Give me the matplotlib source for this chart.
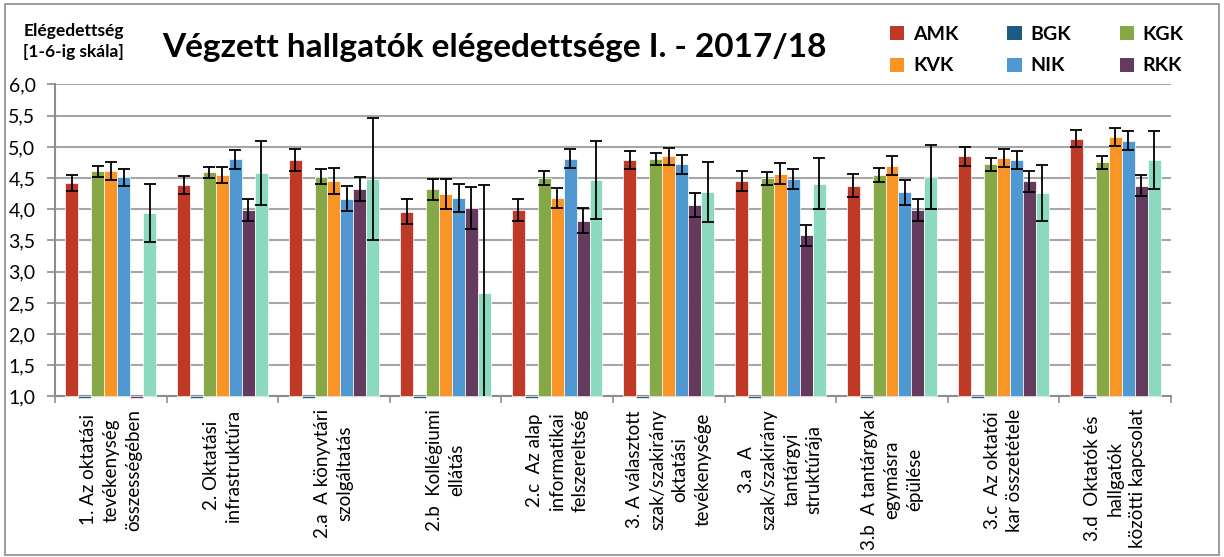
import matplotlib
matplotlib.use('Agg')
import matplotlib.pyplot as plt
from matplotlib.patches import Patch, Rectangle
from matplotlib.ticker import FuncFormatter, FixedLocator
import numpy as np

plt.rcParams['font.family'] = ['Lato', 'DejaVu Sans']

# kategóriák
kategoriak = [
    "1. Az oktatási\ntevékenység\nösszességében",
    "2. Oktatási\ninfrastruktúra",
    "2.a  A könyvtári\nszolgáltatás",
    "2.b  Kollégiumi\nellátás",
    "2.c  Az alap\ninformatikai\nfelszereltség",
    "3. A választott\nszak/szakirány\noktatási\ntevékenysége",
    "3.a  A\nszak/szakirány\ntantárgyi\nstruktúrája",
    "3.b  A tantárgyak\negymásra\népülése",
    "3.c  Az oktatói\nkar összetétele",
    "3.d  Oktatók és\nhallgatók\nközötti kapcsolat",
]

# átlagok karonként
amk = [4.42, 4.39, 4.79, 3.96, 3.99, 4.79, 4.46, 4.38, 4.85, 5.13]
bgk = [0.97, 0.97, 0.97, 0.97, 0.97, 0.97, 0.97, 0.97, 0.97, 0.97]
kgk = [4.61, 4.59, 4.52, 4.32, 4.50, 4.81, 4.50, 4.55, 4.72, 4.75]
kvk = [4.61, 4.55, 4.45, 4.24, 4.18, 4.85, 4.57, 4.70, 4.82, 5.16]
nik = [4.51, 4.80, 4.17, 4.18, 4.81, 4.72, 4.48, 4.27, 4.79, 5.10]
rkk = [0.97, 3.99, 4.32, 4.02, 3.82, 4.07, 3.58, 3.99, 4.45, 4.38]
osszes = [3.94, 4.58, 4.49, 2.66, 4.47, 4.27, 4.41, 4.52, 4.26, 4.79]

# hibák
amk_err = [0.13, 0.15, 0.17, 0.20, 0.18, 0.14, 0.16, 0.18, 0.15, 0.135]
kgk_err = [0.09, 0.09, 0.12, 0.17, 0.115, 0.10, 0.105, 0.11, 0.105, 0.105]
kvk_err = [0.145, 0.13, 0.21, 0.24, 0.16, 0.135, 0.165, 0.155, 0.15, 0.15]
nik_err = [0.14, 0.15, 0.20, 0.22, 0.15, 0.15, 0.16, 0.20, 0.15, 0.155]
rkk_err = [0.0, 0.18, 0.19, 0.34, 0.20, 0.19, 0.17, 0.18, 0.17, 0.17]
osszes_err = [0.46, 0.51, 0.98, 1.73, 0.63, 0.48, 0.41, 0.51, 0.45, 0.47]

sorozatok = [
    ('AMK', amk, amk_err, '#BE3A27'),
    ('BGK', bgk, None, '#1B5B84'),
    ('KGK', kgk, kgk_err, '#86A846'),
    ('KVK', kvk, kvk_err, '#F99526'),
    ('NIK', nik, nik_err, '#5098D2'),
    ('RKK', rkk, rkk_err, '#643A5E'),
    ('Összes', osszes, osszes_err, '#8BD9BE'),
]

fig = plt.figure(figsize=(12.24, 5.57), dpi=100)
ax = fig.add_axes([0.0449, 0.2882, 0.9118, 0.5601])

x = np.arange(len(kategoriak))
w = 0.116
for j, (nev, ertek, hiba, szin) in enumerate(sorozatok):
    pos = x + (j - 3) * w
    ertek = np.array(ertek)
    ax.bar(pos, ertek - 1, bottom=1, width=w, color=szin, edgecolor='white',
           linewidth=0.5, zorder=3, clip_on=False)
    if hiba is not None:
        e = np.array(hiba)
        m = e > 0
        ax.errorbar(pos[m], ertek[m], yerr=e[m], fmt='none', ecolor='black',
                    elinewidth=1.3, capsize=4, capthick=1.3, zorder=4)

ax.set_ylim(1, 6)
ax.set_xlim(-0.5, len(kategoriak) - 0.5)
ax.set_yticks(np.arange(1, 6.01, 0.5))
ax.yaxis.set_major_formatter(FuncFormatter(lambda v, p: f"{v:.1f}".replace('.', ',')))
ax.yaxis.grid(True, color='#A6A6A6', linewidth=1.5, zorder=0)
ax.set_axisbelow(True)

ax.set_xticks(x)
ax.set_xticklabels(kategoriak, rotation=90, fontsize=13.5, va='top', ha='center',
                   multialignment='center', linespacing=1.4)
ax.tick_params(axis='x', length=0, pad=9)
ax.xaxis.set_minor_locator(FixedLocator(np.arange(-0.5, len(kategoriak), 1)))
ax.tick_params(axis='x', which='minor', length=5, color='#8C8C8C', width=1.2)
ax.tick_params(axis='y', labelsize=14, length=6, color='#8C8C8C', width=1.2, pad=8)

for s in ['top', 'right']:
    ax.spines[s].set_visible(False)
for s in ['left', 'bottom']:
    ax.spines[s].set_color('#8C8C8C')
    ax.spines[s].set_linewidth(1.5)

fig.text(0.404, 0.914, 'Végzett hallgatók elégedettsége I. - 2017/18',
         ha='center', va='center', fontsize=24, fontweight='bold')
fig.text(0.060, 0.925, 'Elégedettség\n[1-6-ig skála]', ha='center', va='center',
         fontsize=12.5, fontweight='bold', linespacing=1.4)

sz = {nev: szin for nev, _, _, szin in sorozatok}
sorrend = ['AMK', 'KVK', 'BGK', 'NIK', 'KGK', 'RKK']
fogantyuk = [Patch(facecolor=sz[n], label=n) for n in sorrend]
fig.legend(handles=fogantyuk, ncol=3, loc='center', bbox_to_anchor=(0.847, 0.91),
           frameon=False, prop={'weight': 'bold', 'size': 14},
           handlelength=0.75, handleheight=0.75, columnspacing=2.5, labelspacing=0.75,
           handletextpad=0.45)

fig.patches.append(Rectangle((0.004, 0.004), 0.992, 0.989, transform=fig.transFigure,
                             fill=False, edgecolor='#8C8C8C', linewidth=1.2))

fig.savefig('out.png', dpi=100)
